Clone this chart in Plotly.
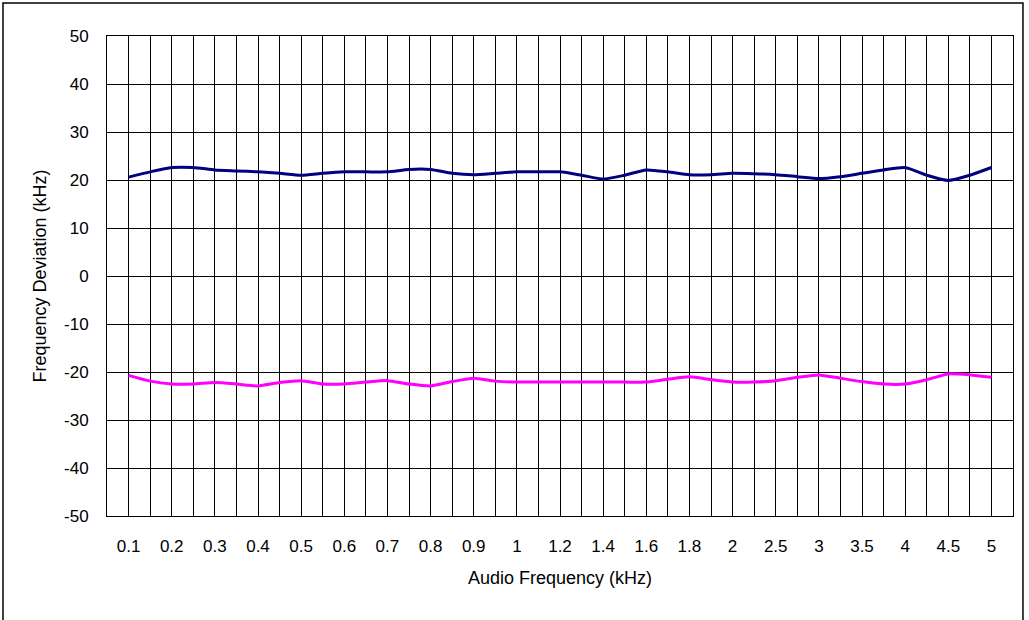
import plotly.graph_objects as go

# audio frequency categories (kHz), evenly spaced on the chart like an Excel category axis
freq_khz = [0.1, 0.15, 0.2, 0.25, 0.3, 0.35, 0.4, 0.45, 0.5, 0.55, 0.6, 0.65, 0.7, 0.75,
            0.8, 0.85, 0.9, 0.95, 1.0,
            1.1, 1.2, 1.3, 1.4, 1.5, 1.6, 1.7, 1.8, 1.9, 2.0,
            2.25, 2.5, 2.75, 3.0, 3.25, 3.5, 3.75, 4.0, 4.25, 4.5, 4.75, 5.0]

# labelled categories on the x axis
tick_labels = ["0.1", "0.2", "0.3", "0.4", "0.5", "0.6", "0.7", "0.8", "0.9", "1",
               "1.2", "1.4", "1.6", "1.8", "2", "2.5", "3", "3.5", "4", "4.5", "5"]

# y axis ticks (plain hyphen minus like the original)
y_ticks = [-50, -40, -30, -20, -10, 0, 10, 20, 30, 40, 50]

# positive deviation (kHz)
dev_pos = [20.6, 21.7, 22.6, 22.6, 22.1, 21.9, 21.7, 21.4, 21.0, 21.4, 21.7, 21.7, 21.7, 22.2,
           22.2, 21.4, 21.1, 21.4, 21.7, 21.7, 21.7, 21.0, 20.2, 21.0, 22.1, 21.7, 21.1, 21.1,
           21.4, 21.3, 21.1, 20.7, 20.3, 20.7, 21.4, 22.1, 22.6, 21.0, 19.9, 21.0, 22.6]

# negative deviation (kHz)
dev_neg = [-20.7, -21.9, -22.5, -22.5, -22.2, -22.5, -22.9, -22.2, -21.8, -22.5, -22.5, -22.1,
           -21.8, -22.5, -22.9, -22.0, -21.3, -21.9, -22.1, -22.1, -22.1, -22.1, -22.1, -22.1,
           -22.1, -21.5, -21.0, -21.6, -22.1, -22.1, -21.8, -21.1, -20.6, -21.3, -22.0, -22.5,
           -22.5, -21.6, -20.4, -20.6, -21.1]

# category positions 1..n, with one empty slot at each end of the axis
pos = list(range(1, len(freq_khz) + 1))
label_str = [("%g" % f) for f in freq_khz]
tick_pos = [pos[label_str.index(t)] for t in tick_labels]

fig = go.Figure()
fig.add_trace(go.Scatter(x=pos, y=dev_pos, mode="lines", customdata=freq_khz,
                         line=dict(color="#000080", width=3, shape="spline", smoothing=0.6),
                         hovertemplate="%{customdata} kHz: %{y}<extra></extra>"))
fig.add_trace(go.Scatter(x=pos, y=dev_neg, mode="lines", customdata=freq_khz,
                         line=dict(color="#FF00FF", width=3, shape="spline", smoothing=0.6),
                         hovertemplate="%{customdata} kHz: %{y}<extra></extra>"))

fig.update_layout(
    width=1029, height=620,
    margin=dict(l=107, r=16, t=36, b=104),
    paper_bgcolor="white", plot_bgcolor="white",
    showlegend=False,
    font=dict(family="Liberation Sans, Arial, sans-serif", size=15, color="black"),
)

fig.update_xaxes(
    range=[0, len(freq_khz) + 1],
    tickmode="array", tickvals=tick_pos, ticktext=tick_labels,
    showgrid=True, gridcolor="black", gridwidth=1,
    minor=dict(tickmode="linear", tick0=0, dtick=1, showgrid=True, gridcolor="black", gridwidth=1),
    showline=True, linecolor="black", linewidth=1, mirror=True,
    ticks="", ticklabelstandoff=15,
    tickfont=dict(size=17),
    zeroline=False,
    title=dict(text="Audio Frequency (kHz)", font=dict(size=18), standoff=15),
)

fig.update_yaxes(
    range=[-50, 50],
    tickmode="array", tickvals=y_ticks, ticktext=[str(v) for v in y_ticks],
    showgrid=True, gridcolor="black", gridwidth=1,
    showline=True, linecolor="black", linewidth=1, mirror=True,
    ticks="", ticklabelstandoff=14,
    tickfont=dict(size=17),
    zeroline=True, zerolinecolor="black", zerolinewidth=1,
    title=dict(text="Frequency Deviation (kHz)", font=dict(size=18), standoff=12),
)

# outer chart-area frame
fig.add_shape(type="rect", xref="paper", yref="paper",
              x0=-0.1148, x1=1.011, y0=-0.3, y1=1.069,
              line=dict(color="black", width=1.5), fillcolor="rgba(0,0,0,0)", layer="below")

# drop the browser's default body margin so the figure sits at the window's corner
fig.write_html("out.html", config={"displayModeBar": False},
               post_script="document.body.style.margin='0';document.body.style.overflow='hidden';")
